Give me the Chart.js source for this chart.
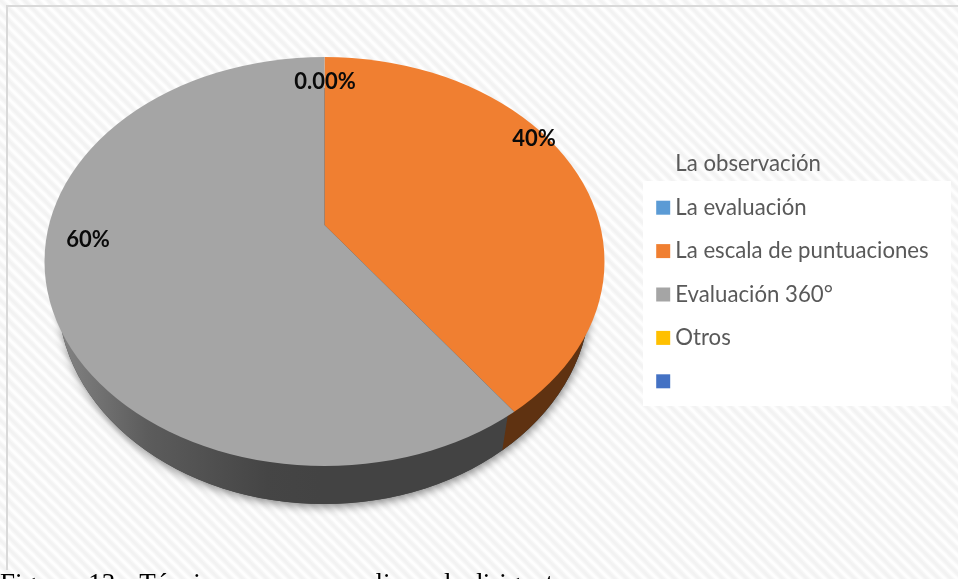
<!DOCTYPE html>
<html><head><meta charset="utf-8">
<style>
html,body{margin:0;padding:0;background:#fff;overflow:hidden;width:958px;height:579px}
#wrap{position:relative;width:958px;height:579px;overflow:hidden}
canvas{position:absolute;left:0;top:0}
#cap{position:absolute;left:0;top:568px;font:27px/31px "Liberation Serif",serif;color:#000;white-space:nowrap;word-spacing:11px}
</style>
<script src="https://cdn.jsdelivr.net/npm/chart.js@4"></script>
</head><body>
<div id="wrap"><canvas id="c" width="958" height="579"></canvas>
<div id="cap">Figura 13. Técnicas que se aplica al dirigente</div></div>
<script>
const categories = ["La observación","La evaluación","La escala de puntuaciones","Evaluación 360°","Otros",""];
const values = [0,0,40,60,0,0];
const sliceColors = ["rgba(0,0,0,0)","#5B9BD5","#F07F31","#A5A5A5","#FFC000","#4472C4"];
const dataLabels = ["0.00%","40%","60%"];

/* ---- drawing geometry (not data) ---- */
const apex = {x:324.5,y:225}, tilt = 0.715, bigR = 370;
const topE = {x:324.5,y:261.5,rx:280,ry:204.5};
const lowE = {x:324,y:296,rx:266,ry:208};
const labelSpots = [[325,81.5],[534,138.5],[88,239.5]];
const legendBox = {x:643,y:181,w:308,h:225};
const wallDrop = {x:-8,y:38};

function ell(ctx,e){ctx.beginPath();ctx.ellipse(e.x,e.y,e.rx,e.ry,0,0,Math.PI*2);ctx.closePath();}
function hatch(ctx){
  const p=document.createElement('canvas');p.width=12;p.height=12;
  const g=p.getContext('2d');g.fillStyle='#fefefe';g.fillRect(0,0,12,12);
  for(const [w,col] of [[6,'#f9f9f9'],[4,'#f5f5f5'],[2,'#f2f2f2']]){
    g.strokeStyle=col;g.lineWidth=w;
    for(let o=-12;o<=12;o+=12){g.beginPath();g.moveTo(o-2,-2);g.lineTo(o+14,14);g.stroke();}
  }
  return ctx.createPattern(p,'repeat');
}
// where a slice edge at the given angle meets the rim of the top face
function rimPoint(angle){
  const dx=Math.cos(angle),dy=tilt*Math.sin(angle);
  const ox=(apex.x-topE.x)/topE.rx,oy=(apex.y-topE.y)/topE.ry,ux=dx/topE.rx,uy=dy/topE.ry;
  const A=ux*ux+uy*uy,B=2*(ox*ux+oy*uy),C=ox*ox+oy*oy-1;
  const t=(-B+Math.sqrt(B*B-4*A*C))/(2*A);
  return {x:apex.x+t*dx,y:apex.y+t*dy};
}
const backdrop={id:'backdrop',beforeDraw(chart){
  const ctx=chart.ctx;ctx.save();
  ctx.fillStyle=hatch(ctx);ctx.fillRect(0,0,958,579);
  ctx.fillStyle='#d9d9d9';ctx.fillRect(6,5,952,2);ctx.fillRect(6,5,2,565);
  ctx.fillStyle='#fff';ctx.fillRect(legendBox.x,legendBox.y,legendBox.w,legendBox.h);
  ctx.restore();
}};
const placeLegend={id:'placeLegend',afterLayout(chart){
  const l=chart.legend,w=l.width,h=l.height;
  l.left=641;l.top=132;l.right=641+Math.max(w,312);l.bottom=132+Math.max(h,300);
  l.width=l.right-l.left;l.height=l.bottom-l.top;
}};
const pie3d={id:'pie3d',
  beforeDatasetsDraw(chart){
    const ctx=chart.ctx,arcs=chart.getDatasetMeta(0).data,a0=arcs[0];
    // drop shadow + side wall, split at the rim point of the orange slice's end angle
    ctx.save();
    ctx.shadowColor='rgba(0,0,0,.45)';ctx.shadowBlur=9;ctx.shadowOffsetX=1;ctx.shadowOffsetY=3;
    ctx.fillStyle='#444';ell(ctx,lowE);ctx.fill();
    ctx.restore();
    const grad=ctx.createLinearGradient(55,0,320,0);
    grad.addColorStop(0,'#858585');grad.addColorStop(.35,'#5c5c5c');grad.addColorStop(.8,'#454545');grad.addColorStop(1,'#434343');
    ctx.save();ell(ctx,lowE);ctx.clip();
    ctx.fillStyle=grad;ctx.fillRect(0,0,958,579);
    const P=rimPoint(arcs[2].endAngle);
    ctx.beginPath();ctx.moveTo(P.x,P.y-wallDrop.y);
    ctx.lineTo(P.x+wallDrop.x*3,P.y+wallDrop.y*3);
    ctx.lineTo(958,579);ctx.lineTo(958,0);ctx.lineTo(P.x,0);ctx.closePath();
    ctx.fillStyle='#5f3211';ctx.fill();
    ctx.restore();
    // top face: arcs drawn by Chart.js under this transform
    const k=bigR/a0.outerRadius;
    ctx.save();ell(ctx,topE);ctx.clip();
    ctx.translate(apex.x,apex.y);ctx.scale(k,k*tilt);ctx.translate(-a0.x,-a0.y);
  },
  afterDatasetsDraw(chart){
    const ctx=chart.ctx;ctx.restore();
    ctx.save();
    ctx.font='bold 22px Lato';ctx.fillStyle='#0a0a0a';ctx.textAlign='center';ctx.textBaseline='middle';
    dataLabels.forEach((t,i)=>ctx.fillText(t,labelSpots[i][0],labelSpots[i][1]));
    ctx.restore();
  }
};
Chart.defaults.font.family='Lato';
new Chart(document.getElementById('c'),{
  type:'pie',
  data:{labels:categories,datasets:[{data:values,backgroundColor:sliceColors,borderWidth:0,clip:false}]},
  options:{
    responsive:false,animation:false,
    layout:{padding:0},
    plugins:{
      tooltip:{enabled:false},
      legend:{display:true,position:'right',align:'start',
        labels:{boxWidth:2,boxHeight:2,padding:21.2,color:'#595959',font:{size:22.2},
          generateLabels(chart){
            return Chart.overrides.pie.plugins.legend.labels.generateLabels(chart)
              .map(it=>({...it,strokeStyle:it.fillStyle,lineWidth:12}));
          }}}
    }
  },
  plugins:[backdrop,placeLegend,pie3d]
});
</script>
</body></html>
